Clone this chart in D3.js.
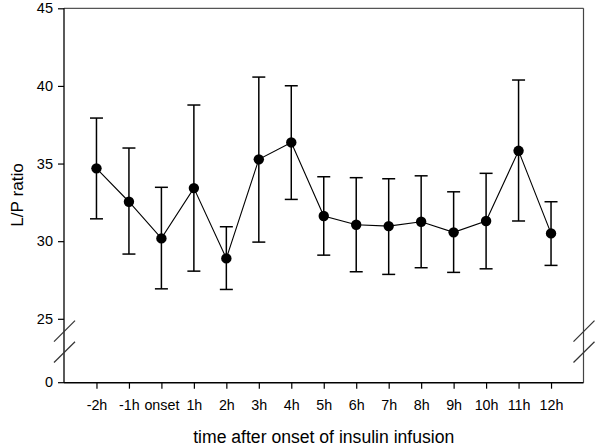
<!DOCTYPE html>
<html><head><meta charset="utf-8">
<script src="https://cdn.jsdelivr.net/npm/d3@7"></script>
<style>body{margin:0;background:#fff}text{font-family:"Liberation Sans",Arial,sans-serif;fill:#000}</style>
</head><body><svg id="c" width="600" height="448"></svg>
<script>
const categories = ["-2h","-1h","onset","1h","2h","3h","4h","5h","6h","7h","8h","9h","10h","11h","12h"];
const means = [34.69,32.54,30.18,33.42,28.89,35.27,36.36,31.62,31.06,30.97,31.25,30.57,31.30,35.82,30.50];
const upper = [37.93,36.00,33.47,38.77,30.93,40.57,40.01,34.15,34.09,34.02,34.21,33.18,34.37,40.38,32.54];
const lower = [31.44,29.17,26.93,28.07,26.89,29.94,32.69,29.10,28.03,27.86,28.29,27.99,28.22,31.30,28.44];
const yTicks = [25,30,35,40,45];
const xTitle = "time after onset of insulin infusion";
const yTitle = "L/P ratio";

const svg = d3.select("#c");
const L = 64, R = 583.5, T = 8.3, B = 382.7;
const x = d3.scalePoint().domain(categories).range([L, R]).padding(1);
const y = d3.scaleLinear().domain([25, 45]).range([318.8, T]);
const yZero = B;
const FF = "Liberation Sans, Arial, sans-serif";

// frame top/right
svg.append("line").attr("x1",L).attr("x2",R).attr("y1",T).attr("y2",T).attr("stroke","#555").attr("stroke-width",1.2);
svg.append("line").attr("x1",R).attr("x2",R).attr("y1",T).attr("y2",B).attr("stroke","#444").attr("stroke-width",1.2);

// left y axis
const ya = svg.append("g").attr("transform",`translate(${L},0)`)
  .call(d3.axisLeft(y).tickValues(yTicks).tickSize(6).tickPadding(5));
ya.select(".domain").remove();
ya.selectAll("line").attr("stroke","#000").attr("stroke-width",1.2);
ya.selectAll("text").attr("font-size",14.5).style("font-family",FF);
svg.append("line").attr("x1",L).attr("x2",L).attr("y1",T).attr("y2",B).attr("stroke","#000").attr("stroke-width",1.3);
// zero tick
svg.append("line").attr("x1",L-6).attr("x2",L).attr("y1",yZero).attr("y2",yZero).attr("stroke","#000").attr("stroke-width",1.2);
svg.append("text").attr("x",L-11).attr("y",yZero).attr("dy","0.32em").attr("text-anchor","end").attr("font-size",14.5).text("0");

// bottom axis
const xa = svg.append("g").attr("transform",`translate(0,${B})`)
  .call(d3.axisBottom(x).tickSize(6).tickPadding(11));
xa.select(".domain").remove();
xa.selectAll("line").attr("stroke","#000").attr("stroke-width",1.2);
xa.selectAll("text").attr("font-size",14.3).style("font-family",FF);
svg.append("line").attr("x1",L).attr("x2",R).attr("y1",B).attr("y2",B).attr("stroke","#000").attr("stroke-width",1.5);

// break marks
[L-10, R-10].forEach(x0 => {
  [[341.7,320.7],[362.5,341.7]].forEach(([a,b]) => {
    svg.append("line").attr("x1",x0).attr("y1",a).attr("x2",x0+21).attr("y2",b).attr("stroke","#333").attr("stroke-width",1.2);
  });
});

// error bars
const g = svg.append("g");
categories.forEach((c,i) => {
  const cx = x(c);
  g.append("line").attr("x1",cx).attr("x2",cx).attr("y1",y(upper[i])).attr("y2",y(lower[i])).attr("stroke","#000").attr("stroke-width",1.5);
  [upper[i], lower[i]].forEach(v => {
    g.append("line").attr("x1",cx-6.5).attr("x2",cx+6.5).attr("y1",y(v)).attr("y2",y(v)).attr("stroke","#000").attr("stroke-width",1.5);
  });
});

// line
svg.append("path").datum(means.map((m,i)=>[x(categories[i]), y(m)]))
  .attr("d", d3.line()).attr("fill","none").attr("stroke","#000").attr("stroke-width",1.1);

// points
svg.selectAll("circle.pt").data(means).join("circle").attr("class","pt")
  .attr("cx",(d,i)=>x(categories[i])).attr("cy",d=>y(d)).attr("r",5.2).attr("fill","#000");

// titles
svg.append("text").attr("x",(L+R)/2).attr("y",437).attr("dy","0.35em").attr("text-anchor","middle").attr("font-size",17.6).text(xTitle);
svg.append("text").attr("transform",`translate(17,195) rotate(-90)`).attr("dy","0.35em").attr("text-anchor","middle").attr("font-size",17.2).text(yTitle);
</script></body></html>
